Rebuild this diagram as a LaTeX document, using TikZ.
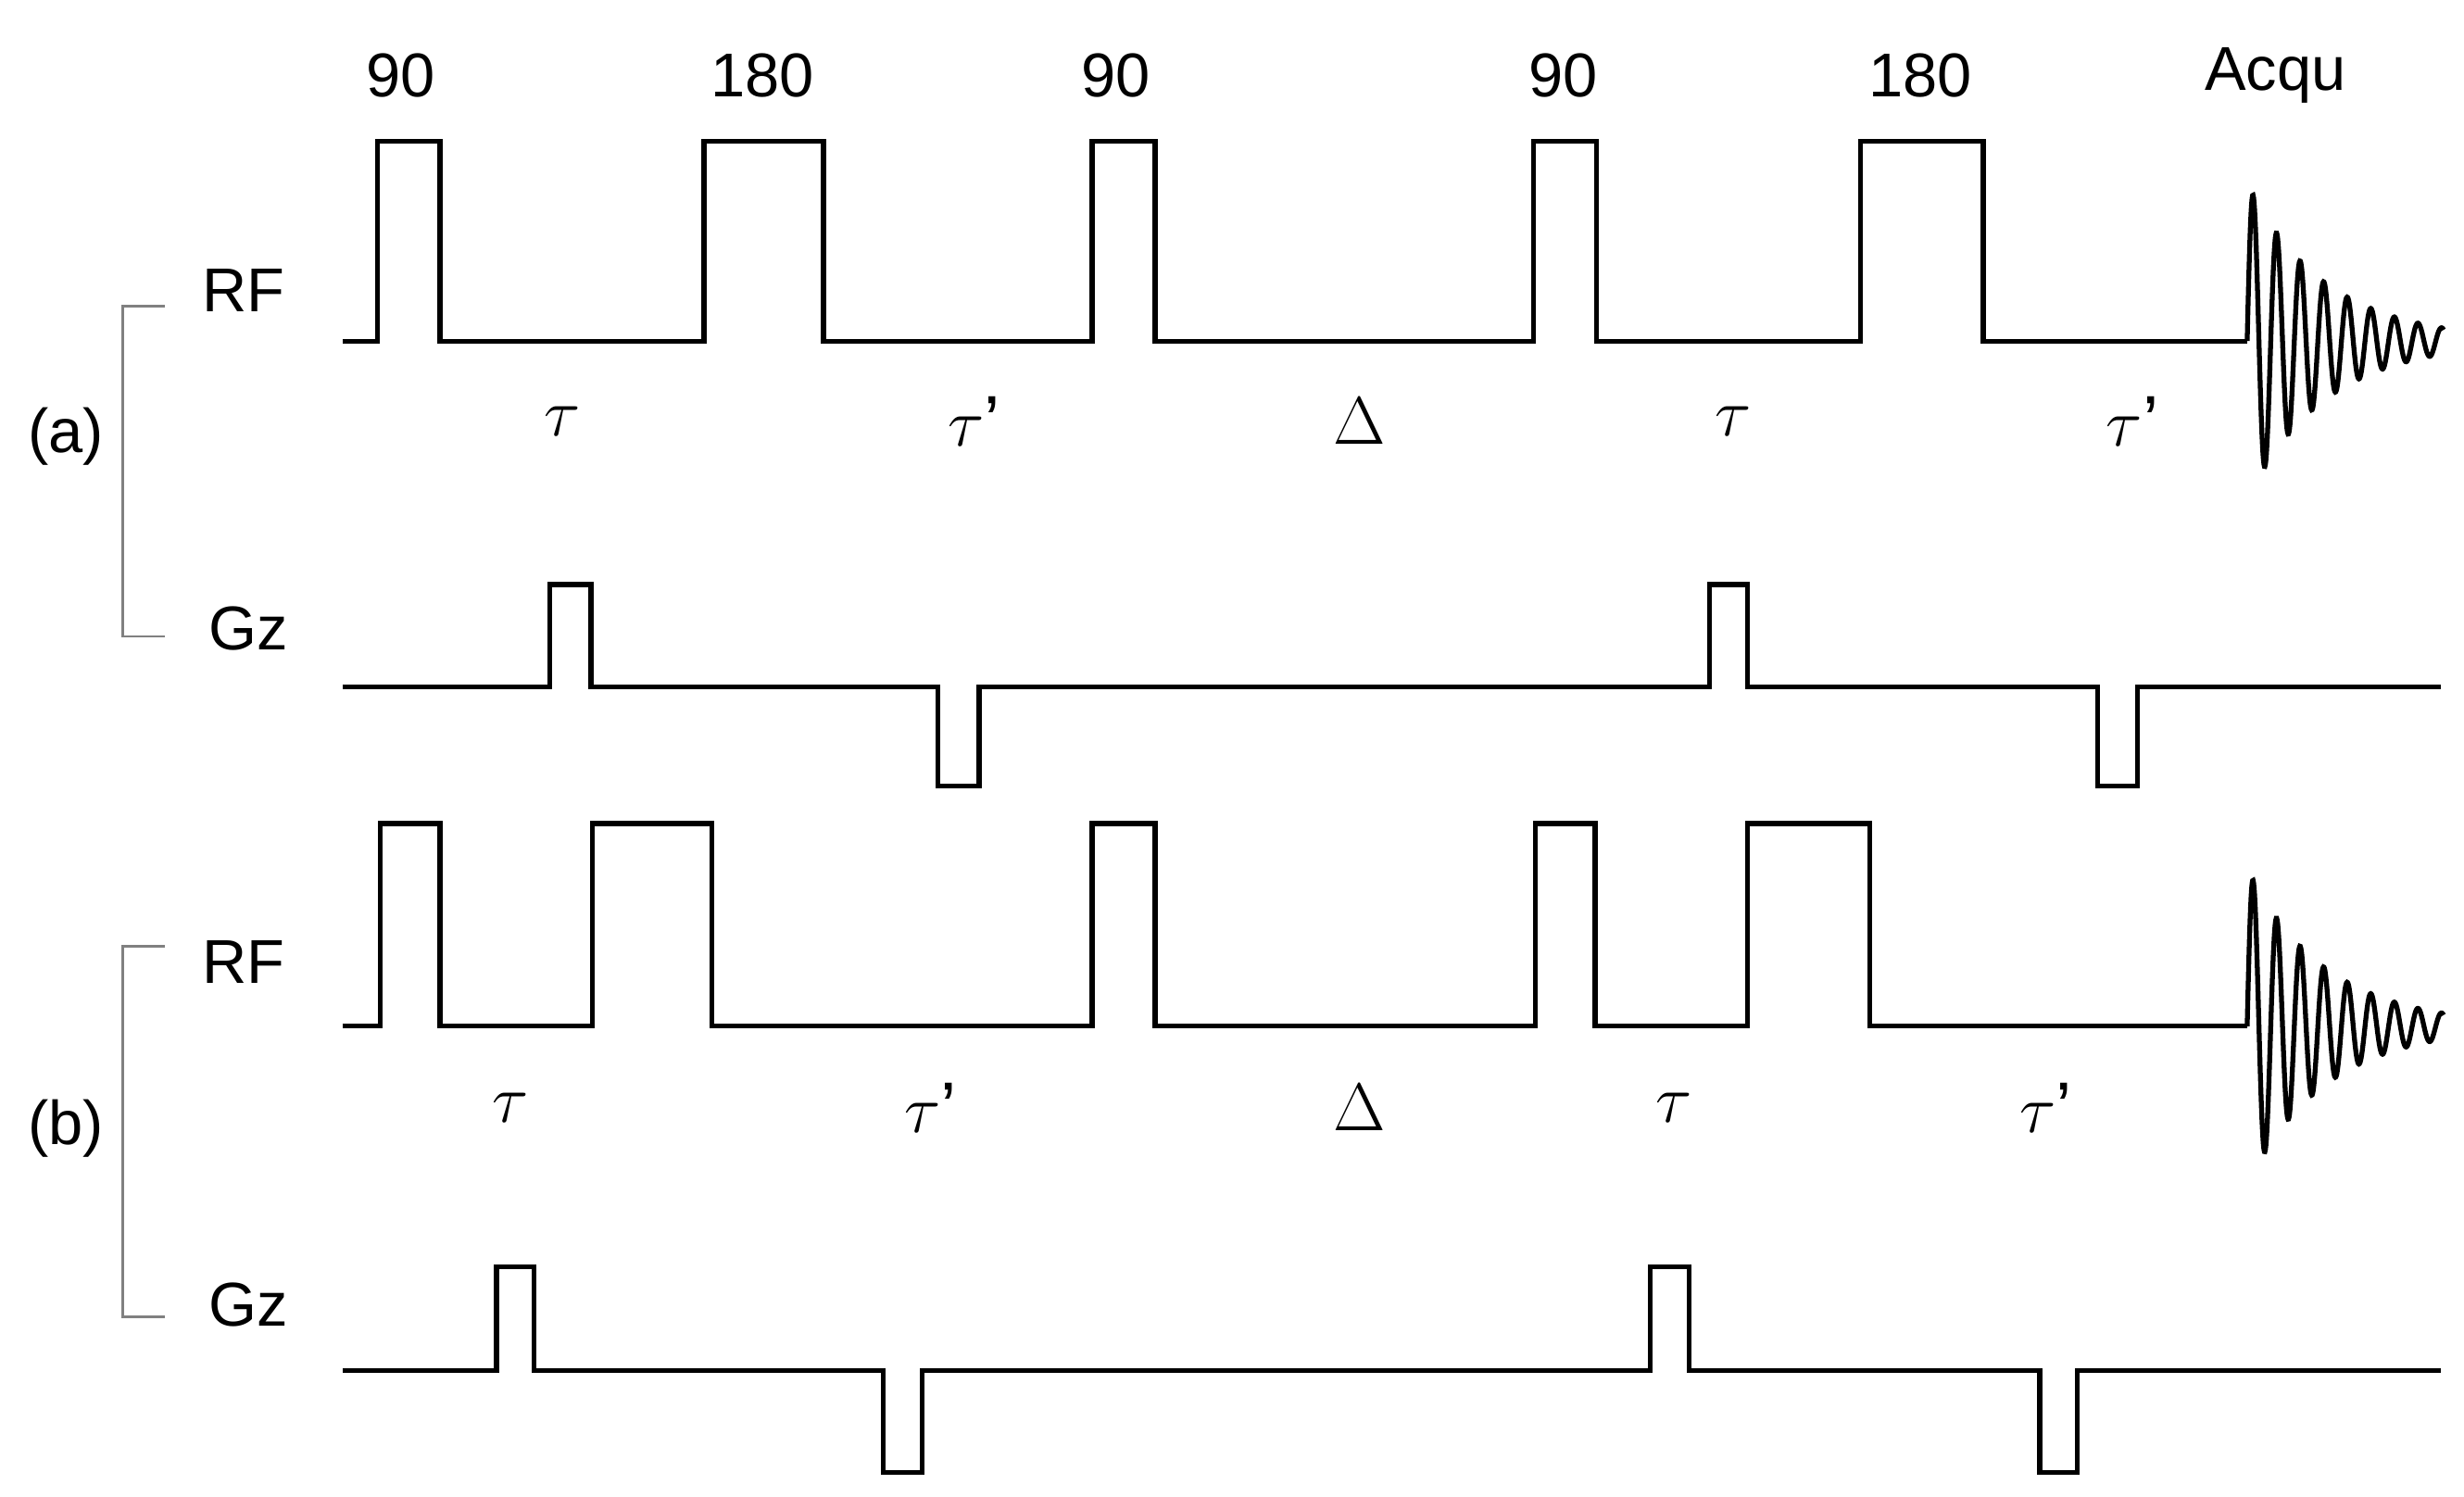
\documentclass[tikz,border=0pt]{standalone}
\usepackage{fontspec}
\setmainfont{Liberation Sans}
\begin{document}
\begin{tikzpicture}[x=0.01696cm,y=-0.01696cm,
  wave/.style={line width=1.5pt,line join=miter},
  brk/.style={gray,line width=0.8pt},
  lbl/.style={font=\fontsize{19}{22}\selectfont},
  dly/.style={font=\fontsize{22}{24}\selectfont}]
  \useasboundingbox (0,0) rectangle (1568,952);

  % (a) RF
  \draw[wave] (218,217) -- (240,217) -- (240,90) -- (280,90) -- (280,217)
    -- (448,217) -- (448,90) -- (524,90) -- (524,217)
    -- (695,217) -- (695,90) -- (735,90) -- (735,217)
    -- (976,217) -- (976,90) -- (1016,90) -- (1016,217)
    -- (1184,217) -- (1184,90) -- (1262,90) -- (1262,217) -- (1430,217);
  \draw[wave] plot[domain=0:125,samples=400] ({1430+\x},{217-100*exp(-\x/50)*sin(\x*24)});
  % (a) Gz
  \draw[wave] (218,437) -- (350,437) -- (350,372) -- (376,372) -- (376,437)
    -- (597,437) -- (597,500) -- (623,500) -- (623,437)
    -- (1088,437) -- (1088,372) -- (1112,372) -- (1112,437)
    -- (1335,437) -- (1335,500) -- (1360,500) -- (1360,437) -- (1553,437);

  % (b) RF
  \draw[wave] (218,653) -- (242,653) -- (242,524) -- (280,524) -- (280,653)
    -- (377,653) -- (377,524) -- (453,524) -- (453,653)
    -- (695,653) -- (695,524) -- (735,524) -- (735,653)
    -- (977,653) -- (977,524) -- (1015,524) -- (1015,653)
    -- (1112,653) -- (1112,524) -- (1190,524) -- (1190,653) -- (1430,653);
  \draw[wave] plot[domain=0:125,samples=400] ({1430+\x},{653-100*exp(-\x/50)*sin(\x*24)});
  % (b) Gz
  \draw[wave] (218,872) -- (316,872) -- (316,806) -- (340,806) -- (340,872)
    -- (562,872) -- (562,937) -- (587,937) -- (587,872)
    -- (1050,872) -- (1050,806) -- (1075,806) -- (1075,872)
    -- (1298,872) -- (1298,937) -- (1322,937) -- (1322,872) -- (1553,872);

  % brackets
  \draw[brk] (105,195) -- (78,195) -- (78,405) -- (105,405);
  \draw[brk] (105,602) -- (78,602) -- (78,838) -- (105,838);

  % labels
  \node[lbl] (p1) at (255,48) {90};
  \node[lbl] (p2) at (485,48) {180};
  \node[lbl] (p3) at (710,48) {90};
  \node[lbl] (p4) at (995,48) {90};
  \node[lbl] (p5) at (1222,48) {180};
  \node[lbl] (acq) at (1448,48) {Acqu};
  \node[lbl] (rfa) at (155,185) {RF};
  \node[lbl] (gza) at (158,400) {Gz};
  \node[lbl] (la) at (42,278) {(a)};
  \node[lbl] (rfb) at (155,612) {RF};
  \node[lbl] (gzb) at (158,830) {Gz};
  \node[lbl] (lb) at (42,718) {(b)};

  \node[dly] (ta1) at (358,268) {$\tau$};
  \node[dly] (ta2) at (620,268) {$\tau$'};
  \node[dly] (da) at (865,268) {$\Delta$};
  \node[dly] (ta3) at (1103,268) {$\tau$};
  \node[dly] (ta4) at (1357,268) {$\tau$'};
  \node[dly] (tb1) at (325,705) {$\tau$};
  \node[dly] (tb2) at (592,705) {$\tau$'};
  \node[dly] (db) at (865,705) {$\Delta$};
  \node[dly] (tb3) at (1065,705) {$\tau$};
  \node[dly] (tb4) at (1302,705) {$\tau$'};
\end{tikzpicture}
\end{document}
